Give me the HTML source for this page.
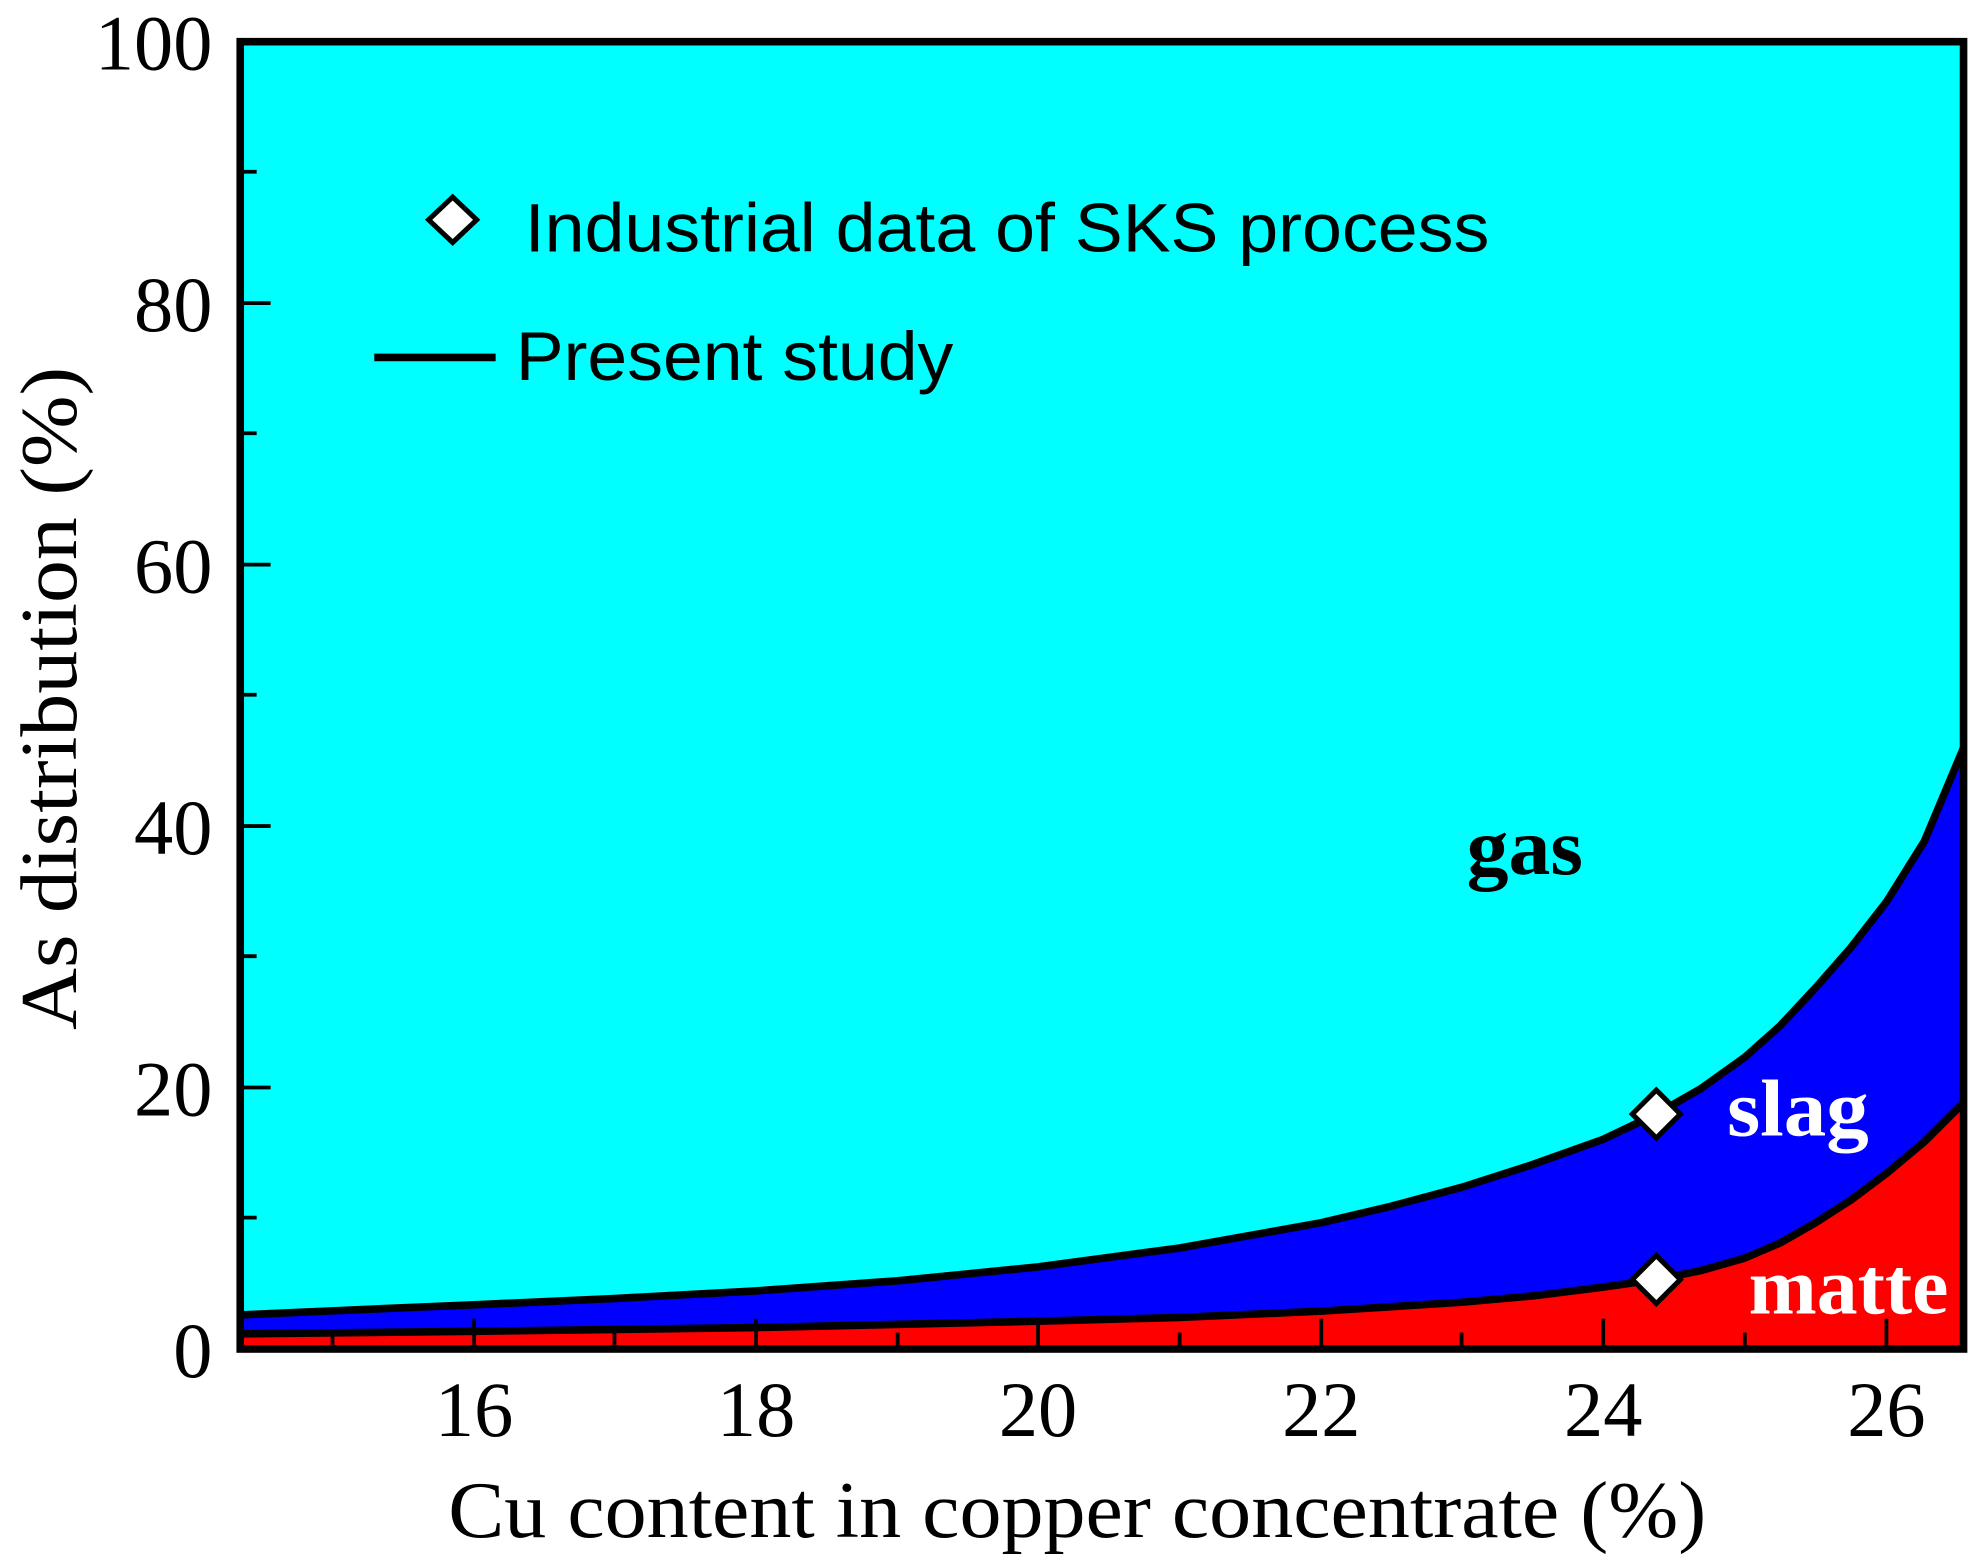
<!DOCTYPE html>
<html><head><meta charset="utf-8"><style>html,body{margin:0;padding:0;background:#fff}svg{display:block}</style></head>
<body>
<svg width="1980" height="1565" viewBox="0 0 1566 1239" preserveAspectRatio="none" xmlns="http://www.w3.org/2000/svg">
<rect x="0" y="0" width="1566" height="1239" fill="#fff"/>
<rect x="190" y="33" width="1363" height="1035" fill="#00ffff"/>
<polygon fill="#0000ff" points="190,1041 280,1037 375,1033 486,1028 598,1022 710,1014 821,1003 933,988 1045,968 1100,955 1156,940 1212,922 1268,902 1310,882 1345,862 1380,837 1408,812 1436,782 1464,750 1492,714 1522,666 1553,592 1553,1068 190,1068"/>
<polygon fill="#ff0000" points="190,1056 375,1054 598,1051 821,1046 933,1043 1045,1038 1156,1031 1212,1026 1268,1019 1310,1013 1345,1006 1380,996 1408,984 1436,968 1464,950 1492,929 1522,904 1553,873 1553,1068 190,1068"/>
<polyline fill="none" stroke="#000" stroke-width="6" stroke-linejoin="round" points="190,1041 280,1037 375,1033 486,1028 598,1022 710,1014 821,1003 933,988 1045,968 1100,955 1156,940 1212,922 1268,902 1310,882 1345,862 1380,837 1408,812 1436,782 1464,750 1492,714 1522,666 1553,592"/>
<polyline fill="none" stroke="#000" stroke-width="6" stroke-linejoin="round" points="190,1056 375,1054 598,1051 821,1046 933,1043 1045,1038 1156,1031 1212,1026 1268,1019 1310,1013 1345,1006 1380,996 1408,984 1436,968 1464,950 1492,929 1522,904 1553,873"/>
<g stroke="#000" stroke-width="3">
<line x1="190" y1="240" x2="214" y2="240"/><line x1="190" y1="447" x2="214" y2="447"/><line x1="190" y1="654" x2="214" y2="654"/><line x1="190" y1="861" x2="214" y2="861"/>
<line x1="190" y1="136" x2="203" y2="136"/><line x1="190" y1="343" x2="203" y2="343"/><line x1="190" y1="550" x2="203" y2="550"/><line x1="190" y1="757" x2="203" y2="757"/><line x1="190" y1="964" x2="203" y2="964"/>
<line x1="375" y1="1068" x2="375" y2="1044"/><line x1="598" y1="1068" x2="598" y2="1044"/><line x1="821" y1="1068" x2="821" y2="1044"/><line x1="1045" y1="1068" x2="1045" y2="1044"/><line x1="1268" y1="1068" x2="1268" y2="1044"/><line x1="1492" y1="1068" x2="1492" y2="1044"/>
<line x1="263" y1="1068" x2="263" y2="1055"/><line x1="486" y1="1068" x2="486" y2="1055"/><line x1="710" y1="1068" x2="710" y2="1055"/><line x1="933" y1="1068" x2="933" y2="1055"/><line x1="1156" y1="1068" x2="1156" y2="1055"/><line x1="1380" y1="1068" x2="1380" y2="1055"/>
</g>
<rect x="190" y="33" width="1363" height="1035" fill="none" stroke="#000" stroke-width="6"/>
<g fill="#fff" stroke="#000" stroke-width="4">
<polygon points="1310,863 1329,882 1310,901 1291,882"/>
<polygon points="1310,994 1329,1013 1310,1032 1291,1013"/>
<polygon points="358,156 377,174 358,192 339,174"/>
</g>
<line x1="296" y1="283" x2="392" y2="283" stroke="#000" stroke-width="6"/>
<g font-family="Liberation Sans, sans-serif" font-size="54" fill="#000">
<text x="415" y="199" textLength="763" lengthAdjust="spacingAndGlyphs">Industrial data of SKS process</text>
<text x="408" y="301" textLength="346" lengthAdjust="spacingAndGlyphs">Present study</text>
</g>
<g font-family="Liberation Serif, serif" font-weight="bold" font-size="64">
<text x="1160" y="692" fill="#000" textLength="92" lengthAdjust="spacingAndGlyphs">gas</text>
<text x="1366" y="899" fill="#fff" textLength="112" lengthAdjust="spacingAndGlyphs">slag</text>
<text x="1383" y="1040" fill="#fff" textLength="158" lengthAdjust="spacingAndGlyphs">matte</text>
</g>
<g font-family="Liberation Serif, serif" font-size="62" fill="#000" text-anchor="end">
<text x="168" y="55">100</text><text x="168" y="262">80</text><text x="168" y="469">60</text><text x="168" y="676">40</text><text x="168" y="883">20</text><text x="168" y="1090">0</text>
</g>
<g font-family="Liberation Serif, serif" font-size="62" fill="#000" text-anchor="middle">
<text x="375" y="1137">16</text><text x="598" y="1137">18</text><text x="821" y="1137">20</text><text x="1045" y="1137">22</text><text x="1268" y="1137">24</text><text x="1492" y="1137">26</text>
<text x="852" y="1217" font-size="64" textLength="995" lengthAdjust="spacingAndGlyphs">Cu content in copper concentrate (%)</text>
<text transform="translate(60,553) rotate(-90)" font-size="64" textLength="525" lengthAdjust="spacingAndGlyphs">As distribution (%)</text>
</g>
</svg>
</body></html>
